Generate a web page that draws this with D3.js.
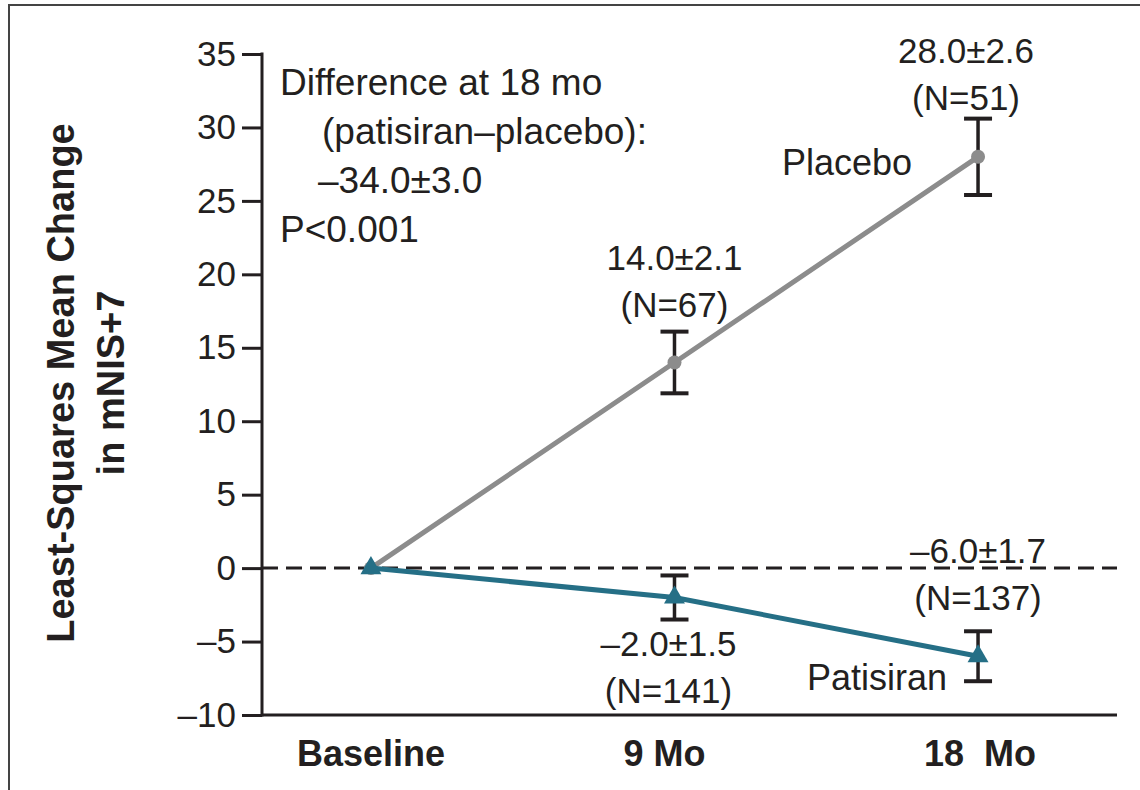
<!DOCTYPE html>
<html>
<head>
<meta charset="utf-8">
<script src="https://cdn.jsdelivr.net/npm/d3@7"></script>
<style>
  body { margin: 0; background: #fff; }
  svg { display: block; }
  text { font-family: "Liberation Sans", Arial, sans-serif; fill: #231f20; }
</style>
</head>
<body>
<svg id="chart"></svg>
<script>
// data
const months = [0, 9, 18]
const xLabels = ['Baseline', '9 Mo', '18  Mo']
const yTicks = [-10, -5, 0, 5, 10, 15, 20, 25, 30, 35]
const placeboMean = [0, 14.0, 28.0]
const placeboSE = [null, 2.1, 2.6]
const placeboN = [null, 67, 51]
const patisiranMean = [0, -2.0, -6.0]
const patisiranSE = [null, 1.5, 1.7]
const patisiranN = [null, 141, 137]
const diffNote = ['Difference at 18 mo', '(patisiran\u2013placebo):', '\u201334.0\u00b13.0', 'P<0.001']

const width = 1140
const height = 790
const svg = d3.select('#chart').attr('width', width).attr('height', height)

const fmt = v => (v < 0 ? '\u2013' : '') + Math.abs(v).toFixed(1)
const fmtTick = v => (v < 0 ? '\u2013' : '') + Math.abs(v)

const x = d3.scaleLinear().domain([-3.23, 22.12]).range([262, 1117])
const y = d3.scaleLinear().domain([-10, 35]).range([715, 54])

const grey = '#8c8c8c'
const teal = '#256f86'
const ink = '#231f20'

// outer frame
svg.append('rect')
    .attr('x', 9).attr('y', 5)
    .attr('width', 1300).attr('height', 1000)
    .attr('fill', 'none').attr('stroke', '#444').attr('stroke-width', 2)

// y axis
const yAxis = d3.axisLeft(y).tickValues(yTicks).tickSize(20).tickPadding(6).tickFormat(fmtTick)
const gy = svg.append('g').attr('transform', `translate(${x.range()[0]},0)`).call(yAxis)
gy.select('.domain').remove()
gy.selectAll('.tick line').attr('stroke', ink).attr('stroke-width', 3)
gy.selectAll('.tick text')
    .attr('font-size', 35).attr('fill', ink)
    .attr('font-family', '"Liberation Sans", Arial, sans-serif')
svg.append('line')
    .attr('x1', x.range()[0]).attr('x2', x.range()[0])
    .attr('y1', y(35) - 1.5).attr('y2', y(-10) + 1.5)
    .attr('stroke', ink).attr('stroke-width', 3)

// x axis
svg.append('line')
    .attr('x1', x.range()[0]).attr('x2', x.range()[1])
    .attr('y1', y(-10)).attr('y2', y(-10))
    .attr('stroke', ink).attr('stroke-width', 3)
svg.append('g').selectAll('text').data(months)
    .enter().append('text')
        .attr('x', (d, i) => x(d) + [0, -10, 2][i])
        .attr('y', 766)
        .attr('text-anchor', 'middle')
        .attr('font-size', 36).attr('font-weight', 'bold')
        .style('white-space', 'pre')
        .text((d, i) => xLabels[i])

// y title
const yt = svg.append('text')
    .attr('transform', 'translate(0,383) rotate(-90)')
    .attr('text-anchor', 'middle')
    .attr('font-size', 38).attr('font-weight', 'bold')
yt.append('tspan').attr('x', 0).attr('y', 74).text('Least-Squares Mean Change')
yt.append('tspan').attr('x', 0).attr('y', 124).text('in mNIS+7')

// zero reference line
svg.append('line')
    .attr('x1', x.range()[0]).attr('x2', x.range()[1])
    .attr('y1', y(0)).attr('y2', y(0))
    .attr('stroke', ink).attr('stroke-width', 3)
    .attr('stroke-dasharray', '16,8')

const line = d3.line().x((d, i) => x(months[i])).y(d => y(d))

// placebo
svg.append('path').datum(placeboMean)
    .attr('d', line).attr('fill', 'none')
    .attr('stroke', grey).attr('stroke-width', 5)

const errBar = (g, mean, se) => {
    const cap = 14
    months.forEach((m, i) => {
        if (se[i] == null) return
        const cx = x(m)
        const top = y(mean[i] + se[i])
        const bot = y(mean[i] - se[i])
        g.append('line').attr('x1', cx).attr('x2', cx).attr('y1', top).attr('y2', bot)
            .attr('stroke', ink).attr('stroke-width', 3.5)
        g.append('line').attr('x1', cx - cap).attr('x2', cx + cap).attr('y1', top).attr('y2', top)
            .attr('stroke', ink).attr('stroke-width', 4)
        g.append('line').attr('x1', cx - cap).attr('x2', cx + cap).attr('y1', bot).attr('y2', bot)
            .attr('stroke', ink).attr('stroke-width', 4)
    })
}
errBar(svg.append('g'), placeboMean, placeboSE)

svg.append('g').selectAll('circle').data(placeboMean)
    .enter().append('circle')
        .attr('cx', (d, i) => x(months[i]))
        .attr('cy', d => y(d))
        .attr('r', 7)
        .attr('fill', grey)

// patisiran
svg.append('path').datum(patisiranMean)
    .attr('d', line).attr('fill', 'none')
    .attr('stroke', teal).attr('stroke-width', 5)
errBar(svg.append('g'), patisiranMean, patisiranSE)
svg.append('g').selectAll('path').data(patisiranMean)
    .enter().append('path')
        .attr('d', d3.symbol().type(d3.symbolTriangle).size(190))
        .attr('transform', (d, i) => `translate(${x(months[i])},${y(d)})`)
        .attr('fill', teal)

// value labels
const addLabel = (cx, by, l1, l2) => {
    const t = svg.append('text').attr('text-anchor', 'middle').attr('font-size', 35)
    t.append('tspan').attr('x', cx).attr('y', by).text(l1)
    t.append('tspan').attr('x', cx).attr('y', by + 47).text(l2)
}
addLabel(x(months[1]), 270, fmt(placeboMean[1]) + '\u00b1' + placeboSE[1].toFixed(1), `(N=${placeboN[1]})`)
addLabel(x(months[2]) - 12, 63, fmt(placeboMean[2]) + '\u00b1' + placeboSE[2].toFixed(1), `(N=${placeboN[2]})`)
addLabel(x(months[1]) - 6, 656, fmt(patisiranMean[1]) + '\u00b1' + patisiranSE[1].toFixed(1), `(N=${patisiranN[1]})`)
addLabel(x(months[2]), 563, fmt(patisiranMean[2]) + '\u00b1' + patisiranSE[2].toFixed(1), `(N=${patisiranN[2]})`)

svg.append('text').attr('x', 782).attr('y', 175).attr('font-size', 36).text('Placebo')
svg.append('text').attr('x', 807).attr('y', 690).attr('font-size', 36).text('Patisiran')

// difference note
const note = svg.append('text').attr('font-size', 37)
const noteX = [280, 322, 318, 280]
diffNote.forEach((s, i) => {
    note.append('tspan').attr('x', noteX[i]).attr('y', 95 + i * 49).text(s)
})
</script>
</body>
</html>
